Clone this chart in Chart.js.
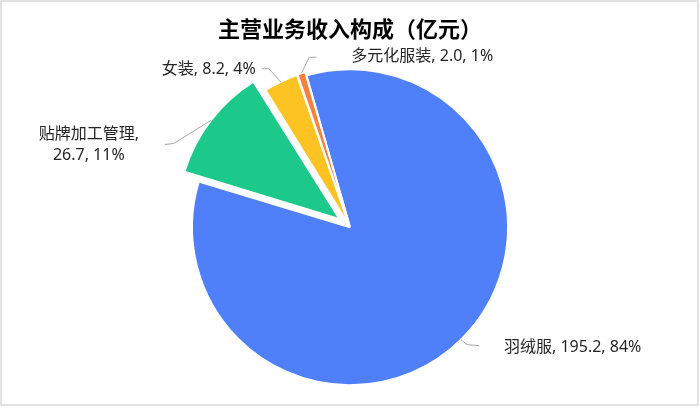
<!DOCTYPE html>
<html>
<head>
<meta charset="utf-8">
<script src="https://cdn.jsdelivr.net/npm/chart.js@4/dist/chart.umd.min.js"></script>
<style>
  html, body { margin: 0; padding: 0; background: #fff; }
  #wrap { width: 700px; height: 417px; }
</style>
</head>
<body>
<div id="wrap"><canvas id="pieChart"></canvas></div>
<script>
// 主营业务收入构成 (亿元)
const categories = ["羽绒服", "贴牌加工管理", "女装", "多元化服装"];
const revenue = [195.2, 26.7, 8.2, 2.0];
const shares = [84, 11, 4, 1];
const sliceColors = ["#4F80F9", "#1CC98A", "#FCC322", "#F5813F"];

const FONT = "'Noto Sans', 'Noto Sans CJK SC', sans-serif";
const TITLE_FONT = "'Noto Sans CJK SC', sans-serif";

// label layout relative to each slice's outer anchor point
// elbow / end of the leader line, then where the text sits
const labelLayout = [
  { elbow: [6, 5], end: [18, 6], text: [25, 2], align: "left" },
  { elbow: [-37, 23], end: [-46, 24], text: [-76, 0], align: "center", wrap: true },
  { elbow: [-12, -13], end: [-19, -13], text: [-6, 1], align: "right" },
  { elbow: [8, -16], end: [15, -16], text: [35, -1], align: "left" },
];

const frame = {
  id: "frame",
  beforeDraw(chart) {
    const c = chart.ctx;
    c.save();
    c.fillStyle = "#fff";
    c.fillRect(0, 0, chart.width, chart.height);
    c.strokeStyle = "#d9d9d9";
    c.lineWidth = 1.5;
    c.strokeRect(1, 1, 697, 404);
    c.restore();
  },
};

// how far Chart.js actually shifts an arc for a given offset option
function arcShift(arc) {
  const off = (arc.options.offset || 0) / 4;
  const circ = arc.endAngle - arc.startAngle;
  const fix = 1 - Math.sin(Math.min(Math.PI, circ || 0));
  return off * (1 + fix);
}

const outsideLabels = {
  id: "outsideLabels",
  afterDatasetsDraw(chart) {
    const c = chart.ctx;
    const meta = chart.getDatasetMeta(0);
    c.save();
    c.font = "16px " + FONT;
    c.fillStyle = "#262626";
    c.strokeStyle = "#a6a6a6";
    c.lineWidth = 1;
    c.textBaseline = "middle";
    meta.data.forEach((arc, i) => {
      const p = arc.getProps(["x", "y", "startAngle", "endAngle", "outerRadius"], true);
      const mid = (p.startAngle + p.endAngle) / 2;
      const r = p.outerRadius + arcShift(arc);
      const ax = p.x + Math.cos(mid) * r;
      const ay = p.y + Math.sin(mid) * r;
      const L = labelLayout[i];
      const ex = ax + L.end[0], ey = ay + L.end[1];
      c.beginPath();
      c.moveTo(ax, ay);
      c.lineTo(ax + L.elbow[0], ay + L.elbow[1]);
      c.lineTo(ex, ey);
      c.stroke();
      const tx = ex + L.text[0], ty = ey + L.text[1];
      c.textAlign = L.align;
      const valueText = revenue[i].toFixed(1) + ", " + shares[i] + "%";
      if (L.wrap) {
        c.fillText(categories[i] + ",", tx, ty - 10);
        c.fillText(valueText, tx, ty + 11);
      } else {
        c.fillText(categories[i] + ", " + valueText, tx, ty);
      }
    });
    c.restore();
  },
};

new Chart(document.getElementById("pieChart"), {
  type: "pie",
  data: {
    labels: categories,
    datasets: [{
      data: revenue,
      backgroundColor: sliceColors,
      borderColor: "#ffffff",
      borderWidth: 2,
      offset: [0, 52, 7, 7],
      hoverOffset: 0,
    }],
  },
  options: {
    responsive: true,
    maintainAspectRatio: false,
    animation: false,
    rotation: -16,
    radius: 158,
    layout: { padding: { top: 0, bottom: 8, left: 0, right: 0 } },
    plugins: {
      legend: { display: false },
      tooltip: { enabled: false },
      title: {
        display: true,
        text: "主营业务收入构成（亿元）",
        color: "#000",
        font: { family: TITLE_FONT, size: 22, weight: "bold" },
        padding: { top: 15, bottom: 4 },
      },
    },
  },
  plugins: [frame, outsideLabels],
});
</script>
</body>
</html>
